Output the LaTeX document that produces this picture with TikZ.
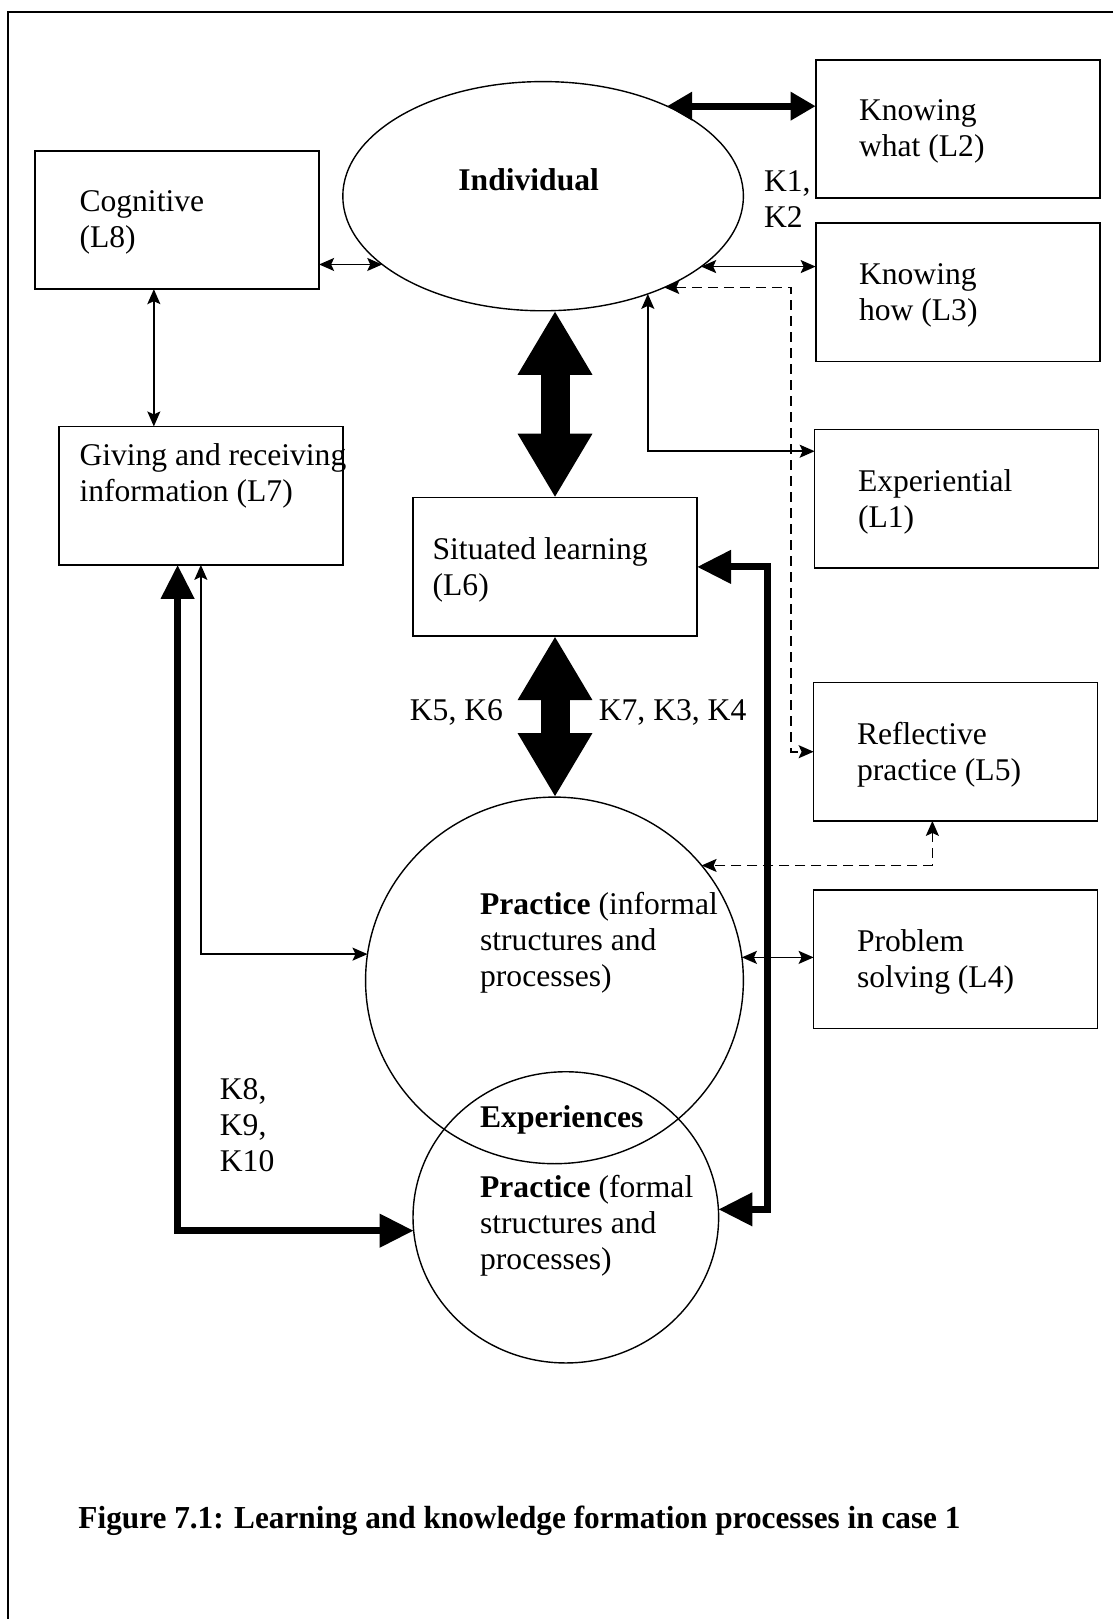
\documentclass[tikz,border=0pt]{standalone}
\usepackage{graphicx}
\usepackage{fontspec}
\setmainfont{Liberation Serif}
\usetikzlibrary{arrows.meta,calc,shapes.geometric}

\begin{document}
\begin{tikzpicture}[x=0.51625pt,y=-0.51625pt,
  every node/.style={font=\fontsize{15.8pt}{18pt}\selectfont},
  boxnode/.style={draw, line width=0.8pt, rectangle, minimum width=142pt,
    minimum height=69.2pt, inner sep=0pt, outer sep=0pt, anchor=north west},
  txt/.style={inner sep=0pt, outer sep=0pt, align=left, anchor=west, yshift=-1.4pt},
  ring/.style={draw, ellipse, line width=0.7pt, inner sep=0pt, outer sep=0pt},
  thinarrow/.style={line width=0.8pt,
    {Stealth[length=7.5pt,width=6.5pt,inset=1.5pt]}-{Stealth[length=7.5pt,width=6.5pt,inset=1.5pt]}},
  dasharrow/.style={thinarrow, dash pattern=on 5pt off 3pt},
  medarrow/.style={line width=3.5pt,
    {Triangle[length=12.5pt,width=13.5pt]}-{Triangle[length=12.5pt,width=13.5pt]}},
  heavyarrow/.style={line width=3.6pt,
    {Triangle[length=17pt,width=16pt]}-{Triangle[length=17pt,width=16pt]}},
  fatarrow/.style={line width=14.5pt,
    {Triangle[length=32pt,width=35pt]}-{Triangle[length=32pt,width=35pt]}}
]
\useasboundingbox (0,0) rectangle (1078,1568);

% outer frame (top and left edges)
\draw[line width=1pt] (1078,12) -- (8,12) -- (8,1568);

% boxes
\node[boxnode] (kwhat)  at (790,58)  {};
\node[boxnode] (khow)   at (790,216) {};
\node[boxnode] (exper)  at (789,416) {};
\node[boxnode] (refl)   at (788,661) {};
\node[boxnode] (prob)   at (788,862) {};
\node[boxnode] (cogn)   at (34,146)  {};
\node[boxnode] (giving) at (57,413)  {};
\node[boxnode] (situ)   at (400,482) {};

% box texts
\node[txt] (kwhat-t)  at ($(kwhat.west)+(42,0)$)   {Knowing\\what (L2)};
\node[txt] (khow-t)   at ($(khow.west)+(42,0)$)    {Knowing\\how (L3)};
\node[txt] (exper-t)  at ($(exper.west)+(42,0)$)   {Experiential\\(L1)};
\node[txt] (refl-t)   at ($(refl.west)+(42,0)$)    {Reflective\\practice (L5)};
\node[txt] (prob-t)   at ($(prob.west)+(42,0)$)    {Problem\\solving (L4)};
\node[txt] (cogn-t)   at ($(cogn.west)+(43,0)$)    {Cognitive\\(L8)};
\node[txt] (giving-t) at ($(giving.west)+(20,-22)$) {\mbox{Giving and receiving}\\information (L7)};
\node[txt] (situ-t)   at ($(situ.west)+(19,0)$)    {Situated learning\\(L6)};

% ellipses and circles
\node[ring, minimum width=200.3pt, minimum height=114.6pt] (ind)  at (526,190)    {};
\node[ring, minimum width=188.9pt, minimum height=183.3pt] (prin) at (537,949.5)  {};
\node[ring, minimum width=152.8pt, minimum height=145.6pt] (prfo) at (548,1179)   {};

\node[txt, font=\fontsize{15.8pt}{18pt}\selectfont\bfseries] (ind-t) at ($(ind.center)+(-82,-19)$) {Individual};
\node[txt] (prin-t) at ($(prin.center)+(-72,-39)$) {\textbf{Practice} (informal\\structures and\\processes)};
\node[txt, font=\fontsize{15.8pt}{18pt}\selectfont\bfseries] (exp-t) at ($(prfo.center)+(-83,-97)$) {Experiences};
\node[txt] (prfo-t) at ($(prfo.center)+(-83,5)$) {\textbf{Practice} (formal\\structures and\\processes)};

% knowledge labels
\node[txt] (k12)   at (740,190)  {K1,\\K2};
\node[txt] (k56)   at (397,687)  {K5, K6};
\node[txt] (k734)  at (580,687)  {K7, K3, K4};
\node[txt] (k8910) at (213,1087) {K8,\\K9,\\K10};

% helper coordinates for routed connectors
\coordinate (railR) at (743,0);
\coordinate (dashx) at (766,0);
\coordinate (expL)  at ($(exper.north west)+(0,21)$);
\coordinate (rb)    at ($(refl.south west)+(115,0)$);
\coordinate (gb)    at ($(giving.south west)+(115,0)$);
\coordinate (cg)    at ($(cogn.south west)+(115,0)$);

% large two-way arrows
\draw[fatarrow] (situ.north |- ind.south) -- (situ.north);
\draw[fatarrow] (situ.south) -- (situ.south |- prin.north);

% heavy connectors
\draw[medarrow]   (ind.36.67) -- (ind.36.67 -| kwhat.west);
\draw[heavyarrow] (situ.east) -- (situ.east -| railR) |- (prfo.3.5);
\draw[heavyarrow] (gb) |- (prfo.185.04);

% thin connectors
\draw[thinarrow] (ind.203.9) -- (ind.203.9 -| cogn.east);
\draw[thinarrow] (cg) -- (cg |- giving.north);
\draw[thinarrow] (ind.336.1) -- (ind.336.1 -| khow.west);
\draw[thinarrow] (ind.317.8) |- (expL);
\draw[thinarrow] (prin.7.07) -- (prin.7.07 -| prob.west);
\draw[thinarrow] (giving.south) |- (prin.172.3);

% dashed connectors
\draw[dasharrow] (ind.323.33) -- (ind.323.33 -| dashx) |- (refl.west);
\draw[dasharrow] (rb) |- (prin.38.06);

% caption
\node[txt, font=\fontsize{16pt}{19pt}\selectfont\bfseries] (cap) at (76,1470)
  {\resizebox{441pt}{\height}{Figure 7.1: Learning and knowledge formation processes in case 1}};
\end{tikzpicture}
\end{document}
